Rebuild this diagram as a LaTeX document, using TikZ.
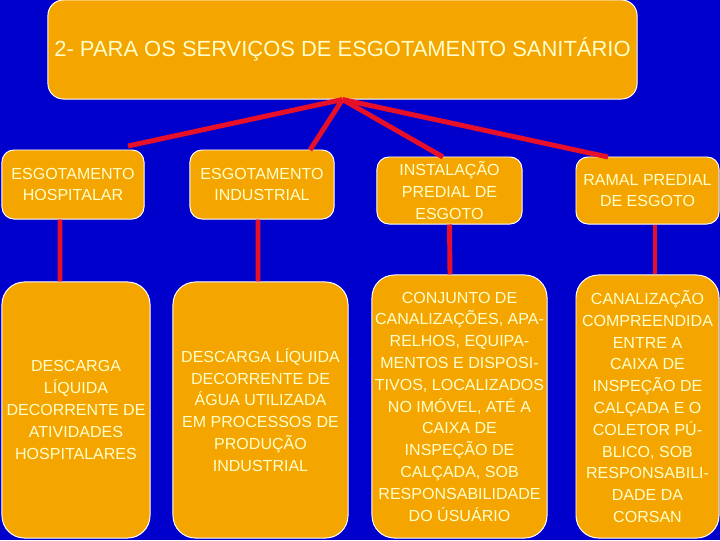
\documentclass[tikz,border=0pt]{standalone}
\usepackage{fontspec}
\setmainfont{Liberation Sans}
\definecolor{slideblue}{RGB}{0,0,204}
\definecolor{boxorange}{RGB}{245,165,0}
\definecolor{linkred}{RGB}{232,16,40}
\definecolor{boxtext}{RGB}{255,255,204}
\begin{document}
\begin{tikzpicture}[x=0.025cm,y=-0.025cm,
  main node/.style={rectangle,draw=white,line width=0.7pt,fill=boxorange,text=boxtext,
    align=center,inner sep=0pt,rounded corners=8.5pt,font=\fontsize{11.4}{15.5}\selectfont},
  tall node/.style={main node,rounded corners=16pt},
  link/.style={draw=linkred,line width=3.5pt}]

  \useasboundingbox[fill=slideblue] (0,0) rectangle (720,540);

  \node[main node,rounded corners=11pt,minimum width=14.725cm,minimum height=2.475cm,
    font=\fontsize{15.6}{18}\selectfont] (0) at (342.5,49.5)
    {2- PARA OS SERVIÇOS DE ESGOTAMENTO SANITÁRIO};

  \node[main node,minimum width=3.55cm,minimum height=1.725cm] (1) at (73,184.5)
    {ESGOTAMENTO\\HOSPITALAR};
  \node[main node,minimum width=3.6cm,minimum height=1.725cm] (2) at (262,184.5)
    {ESGOTAMENTO\\INDUSTRIAL};
  \node[main node,minimum width=3.625cm,minimum height=1.675cm] (3) at (449.5,190.5)
    {INSTALAÇÃO\\PREDIAL DE\\ESGOTO};
  \node[main node,minimum width=3.575cm,minimum height=1.675cm] (4) at (647.5,190.5)
    {RAMAL PREDIAL\\DE ESGOTO};

  \node[tall node,minimum width=3.7cm,minimum height=6.4cm] (5) at (76,410)
    {DESCARGA\\LÍQUIDA\\DECORRENTE DE\\ATIVIDADES\\HOSPITALARES};
  \node[tall node,minimum width=4.375cm,minimum height=6.4cm] (6) at (260.5,410)
    {DESCARGA LÍQUIDA\\DECORRENTE DE\\ÁGUA UTILIZADA\\EM PROCESSOS DE\\PRODUÇÃO\\INDUSTRIAL};
  \node[tall node,minimum width=4.375cm,minimum height=6.575cm] (7) at (459.5,406.5)
    {CONJUNTO DE\\CANALIZAÇÕES, APA-\\RELHOS, EQUIPA-\\MENTOS E DISPOSI-\\TIVOS, LOCALIZADOS\\NO IMÓVEL, ATÉ A\\CAIXA DE\\INSPEÇÃO DE\\CALÇADA, SOB\\RESPONSABILIDADE\\DO ÚSUÁRIO};
  \node[tall node,minimum width=3.575cm,minimum height=6.575cm] (8) at (647.5,406.5)
    {CANALIZAÇÃO\\COMPREENDIDA\\ENTRE A\\CAIXA DE\\INSPEÇÃO DE\\CALÇADA E O\\COLETOR PÚ-\\BLICO, SOB\\RESPONSABILI-\\DADE DA\\CORSAN};

  \coordinate (1t) at (128,146);
  \coordinate (2t) at (310,150);
  \coordinate (3t) at (443,157);
  \coordinate (4t) at (608,157);

  \path[link]
   (0.south) edge (1t)
   (0.south) edge (2t)
   (0.south) edge (3t)
   (0.south) edge (4t)
   ([xshift=-0.325cm]1.south) edge ([xshift=-0.4cm]5.north)
   ([xshift=-0.1cm]2.south) edge ([xshift=-0.0625cm]6.north)
   (3.south) edge ([xshift=-0.2375cm]7.north)
   ([xshift=0.1875cm]4.south) edge ([xshift=0.1875cm]8.north);
\end{tikzpicture}
\end{document}
